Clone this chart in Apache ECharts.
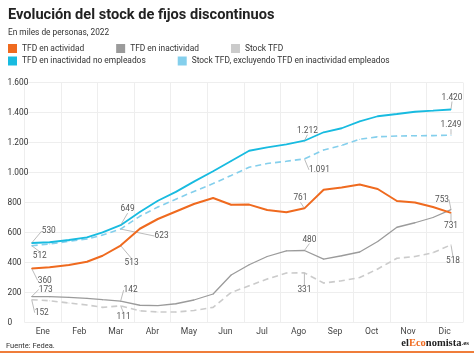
<!DOCTYPE html>
<html>
<head>
<meta charset="utf-8">
<script src="https://cdn.jsdelivr.net/npm/echarts@6/dist/echarts.min.js"></script>
<style>
html,body{margin:0;padding:0;background:#fff;}
#c{width:474px;height:362px;}
</style>
</head>
<body>
<div id="c"></div>
<script>
// ---- Data ----
var months = ['Ene','Feb','Mar','Abr','May','Jun','Jul','Ago','Sep','Oct','Nov','Dic'];
var dates = ['2022-01-07','2022-01-22','2022-02-07','2022-02-22','2022-03-07','2022-03-22',
             '2022-04-07','2022-04-22','2022-05-07','2022-05-22','2022-06-07','2022-06-22',
             '2022-07-07','2022-07-22','2022-08-07','2022-08-22','2022-09-07','2022-09-22',
             '2022-10-07','2022-10-22','2022-11-07','2022-11-22','2022-12-07','2022-12-22'];
var tfdActividad   = [360,368,383,405,445,513,625,690,740,790,830,785,786,750,735,761,885,900,920,890,810,800,770,731];
var tfdInactividad = [173,172,168,161,152,142,115,113,125,150,190,317,385,440,478,480,423,445,470,540,635,665,700,753];
var stockTFDgris   = [152,145,130,117,101,111,78,70,70,80,101,200,245,290,330,331,263,278,300,357,428,440,465,518];
var inactNoEmpl    = [530,535,550,568,601,649,737,812,871,939,1008,1077,1145,1167,1187,1212,1268,1295,1341,1375,1390,1405,1412,1420];
var stockExcl      = [512,523,541,557,583,623,708,770,822,874,926,980,1035,1060,1075,1091,1150,1180,1222,1238,1243,1245,1246,1249];
var yTicks = [0,200,400,600,800,1000,1200,1400,1600];
var labelIdx = [0,5,15,23];

// label offsets (dx, dy) per series and labelled index
var offsets = {
  0: {0:[13,12],5:[11,17],15:[-4,-10],23:[0,13]},
  1: {0:[14,-7],5:[10,-11],15:[5,-11],23:[-9,-10]},
  2: {0:[10,13],5:[3,11],15:[0,17],23:[2,16]},
  3: {0:[17,-12],5:[7,-16],15:[3,-10],23:[1,-12]},
  4: {0:[8,10],5:[41,7],15:[15,11],23:[0,-10]}
};

function fmt(v){ return String(v).replace(/\B(?=(\d{3})+(?!\d))/g,'.'); }

function build(vals){
  return vals.map(function(v,i){
    var item = {value:[dates[i], v]};
    if (labelIdx.indexOf(i) >= 0) {
      item.label = {show:true};
      item.labelLine = {show:true};
    }
    return item;
  });
}

var labelStyle = {show:false, position:'inside', color:'#555', fontSize:8.3, fontFamily:'Roboto',
  formatter:function(p){ return fmt(p.value[1]); }};
var labelLineStyle = {show:false, lineStyle:{color:'#aaa', width:0.8}};

function mkSeries(idx, name, vals, color, width, dashed){
  return {
    name:name, type:'line', xAxisIndex:1, data:build(vals),
    symbol:'circle', symbolSize:1, showSymbol:true,
    color:color,
    lineStyle:{color:color, width:width, type: dashed ? [6,4] : 'solid'},
    label:labelStyle, labelLine:labelLineStyle,
    labelLayout:function(p){
      var o = offsets[idx][p.dataIndex] || [0,0];
      return {dx:o[0], dy:o[1]};
    },
    emphasis:{disabled:true}, silent:true, z: 10-idx
  };
}

var chart = echarts.init(document.getElementById('c'), null, {renderer:'canvas'});
chart.setOption({
  animation:false,
  backgroundColor:'#fff',
  textStyle:{fontFamily:'Roboto'},
  title:[
    {text:'Evolución del stock de fijos discontinuos', left:8, top:8, padding:0,
     textStyle:{fontSize:14.6, fontWeight:'bold', color:'#222', fontFamily:'Roboto'}},
    {text:'En miles de personas, 2022', left:8, top:28.5, padding:0,
     textStyle:{fontSize:8.3, fontWeight:'normal', color:'#333', fontFamily:'Roboto'}}
  ],
  legend:[
    {data:['TFD en actividad','TFD en inactividad','Stock TFD'], left:8, top:44, icon:'rect',
     width:466, itemWidth:9, itemHeight:9, itemGap:32, padding:0,
     textStyle:{fontSize:8.4, color:'#333', fontFamily:'Roboto'}, selectedMode:false},
    {data:['TFD en inactividad no empleados','Stock TFD, excluyendo TFD en inactividad empleados'],
     left:8, top:56.5, icon:'rect', width:466, itemWidth:9, itemHeight:9, itemGap:32, padding:0,
     textStyle:{fontSize:8.4, color:'#333', fontFamily:'Roboto'}, selectedMode:false}
  ],
  grid:{left:24.5, right:11, top:82.5, bottom:39.5, containLabel:false},
  xAxis:[
    {type:'category', data:months, boundaryGap:true,
     axisLine:{show:false}, axisTick:{show:false},
     axisLabel:{color:'#444', fontSize:8.6, margin:4.5, fontFamily:'Roboto'},
     splitLine:{show:true, lineStyle:{color:'#eeeeee', width:1}}},
    {type:'time', min:'2022-01-01', max:'2023-01-01', show:false}
  ],
  yAxis:{type:'value', min:0, max:1600, interval:200,
    axisLine:{show:false}, axisTick:{show:false},
    splitLine:{lineStyle:{color:'#eeeeee', width:1}},
    axisLabel:{align:'left', margin:17, color:'#333', fontSize:8.3, fontFamily:'Roboto',
      verticalAlign:'middle', padding:[0,0,7,0],
      formatter:function(v){ return yTicks.indexOf(v) >= 0 ? fmt(v) : ''; }}},
  series:[
    mkSeries(0,'TFD en actividad', tfdActividad, '#ef6a1f', 2, false),
    mkSeries(1,'TFD en inactividad', tfdInactividad, '#9b9b9b', 1.3, false),
    mkSeries(2,'Stock TFD', stockTFDgris, '#cbcbcb', 1.6, true),
    mkSeries(3,'TFD en inactividad no empleados', inactNoEmpl, '#18bbe0', 1.8, false),
    mkSeries(4,'Stock TFD, excluyendo TFD en inactividad empleados', stockExcl, '#84cfec', 1.6, true)
  ],
  graphic:[
    {type:'text', left:6, top:342.5, style:{text:'Fuente: Fedea.', fontSize:7.5, fill:'#333', fontFamily:'Roboto'}},
    {type:'rect', left:0, top:351, shape:{width:474, height:2}, style:{fill:'#ef7d3a'}},
    {type:'text', right:5, top:338, style:{
      rich:{
        a:{fontFamily:'Liberation Serif', fontWeight:'bold', fontSize:10.5, fill:'#222'},
        b:{fontFamily:'Liberation Serif', fontWeight:'bold', fontSize:10.5, fill:'#ef6a1f'},
        c:{fontFamily:'Liberation Serif', fontWeight:'bold', fontSize:7, fill:'#222'}
      },
      text:'{a|el}{b|Eco}{a|nomista}{c|.es}'}}
  ]
});
</script>
</body>
</html>
